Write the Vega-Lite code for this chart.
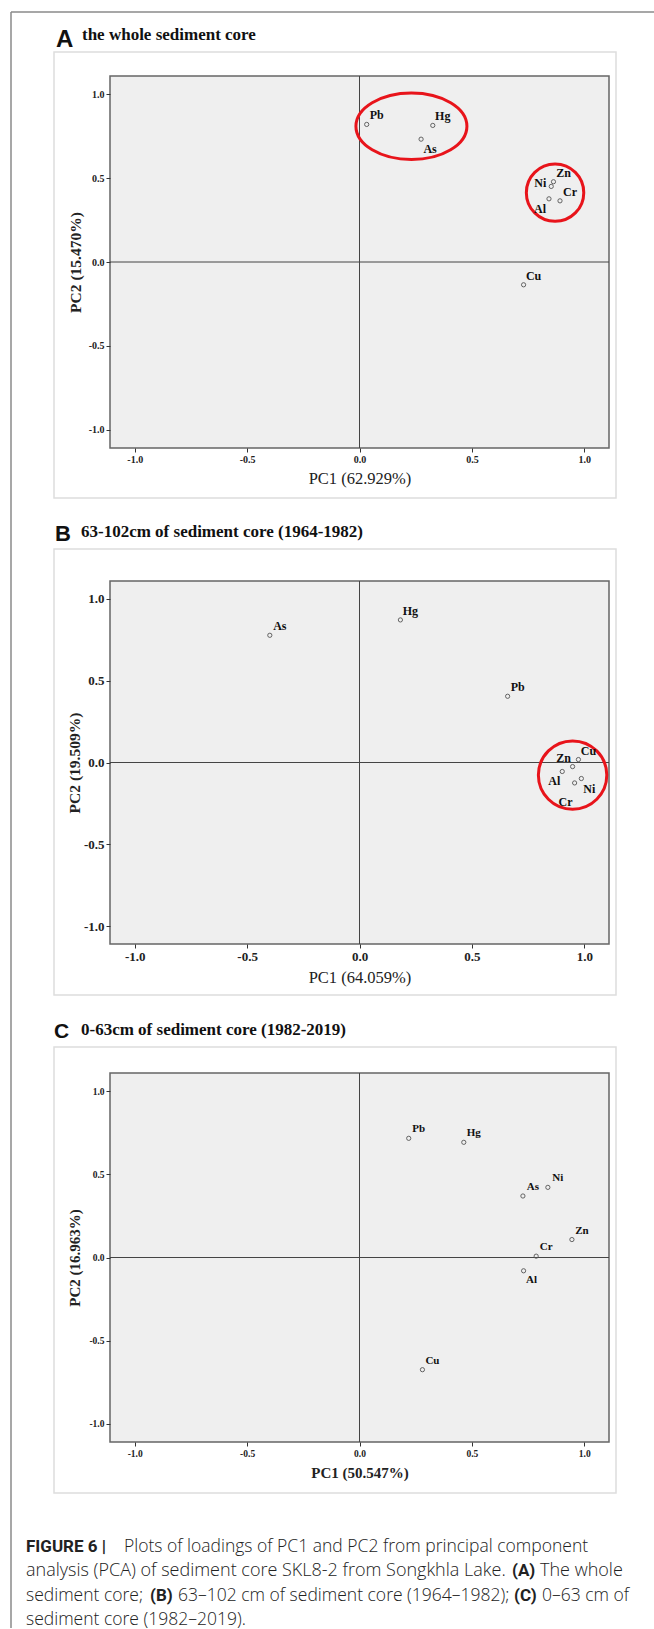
{
  "$schema": "https://vega.github.io/schema/vega-lite/v6.json",
  "background": "white",
  "padding": {"left": 9, "top": 10, "right": 0, "bottom": 0},
  "spacing": 0,
  "bounds": "flush",
  "datasets": {
    "A": [
      {"element": "Pb", "pc1": 0.032, "pc2": 0.821},
      {"element": "Hg", "pc1": 0.326, "pc2": 0.815},
      {"element": "As", "pc1": 0.274, "pc2": 0.733},
      {"element": "Zn", "pc1": 0.863, "pc2": 0.479},
      {"element": "Ni", "pc1": 0.853, "pc2": 0.451},
      {"element": "Al", "pc1": 0.843, "pc2": 0.377},
      {"element": "Cr", "pc1": 0.892, "pc2": 0.365},
      {"element": "Cu", "pc1": 0.730, "pc2": -0.136}
    ],
    "B": [
      {"element": "As", "pc1": -0.399, "pc2": 0.778},
      {"element": "Hg", "pc1": 0.182, "pc2": 0.872},
      {"element": "Pb", "pc1": 0.659, "pc2": 0.405},
      {"element": "Cu", "pc1": 0.974, "pc2": 0.018},
      {"element": "Zn", "pc1": 0.948, "pc2": -0.025},
      {"element": "Al", "pc1": 0.902, "pc2": -0.055},
      {"element": "Ni", "pc1": 0.987, "pc2": -0.098},
      {"element": "Cr", "pc1": 0.957, "pc2": -0.125}
    ],
    "C": [
      {"element": "Pb", "pc1": 0.219, "pc2": 0.717},
      {"element": "Hg", "pc1": 0.464, "pc2": 0.693},
      {"element": "As", "pc1": 0.727, "pc2": 0.370},
      {"element": "Ni", "pc1": 0.838, "pc2": 0.422},
      {"element": "Zn", "pc1": 0.945, "pc2": 0.108},
      {"element": "Cr", "pc1": 0.786, "pc2": 0.008},
      {"element": "Al", "pc1": 0.730, "pc2": -0.080},
      {"element": "Cu", "pc1": 0.280, "pc2": -0.675}
    ],
    "ellipses": [
      {"panel": "A", "group": "Pb-Hg-As", "pc1": 0.231, "pc2": 0.810},
      {"panel": "A", "group": "Zn-Ni-Cr-Al", "pc1": 0.870, "pc2": 0.414},
      {"panel": "B", "group": "Cu-Zn-Al-Ni-Cr", "pc1": 0.948, "pc2": -0.077}
    ],
    "note": [{"item": "annotation"}],
    "caption": [
      {"line": 1, "seg": "1a", "text": "FIGURE 6 |"},
      {"line": 1, "seg": "1b", "text": "Plots of loadings of PC1 and PC2 from principal component"},
      {"line": 2, "seg": "2a", "text": "analysis (PCA) of sediment core SKL8-2 from Songkhla Lake."},
      {"line": 2, "seg": "2b", "text": "(A)"},
      {"line": 2, "seg": "2c", "text": "The whole"},
      {"line": 3, "seg": "3a", "text": "sediment core;"},
      {"line": 3, "seg": "3b", "text": "(B)"},
      {"line": 3, "seg": "3c", "text": "63–102 cm of sediment core (1964–1982);"},
      {"line": 3, "seg": "3d", "text": "(C)"},
      {"line": 3, "seg": "3e", "text": "0–63 cm of"},
      {"line": 4, "seg": "4a", "text": "sediment core (1982–2019)."}
    ]
  },
  "vconcat": [
    {
      "width": 499,
      "height": 372,
      "view": {"fill": "#efefef", "stroke": "#666666", "strokeWidth": 1.5},
      "layer": [
        {
          "data": {"name": "note"},
          "mark": {"type": "rect", "filled": false, "color": "#dddddd", "strokeWidth": 1.5, "xOffset": -56, "x2Offset": 7, "yOffset": -24, "y2Offset": 50},
          "encoding": {"x": {"datum": -1.11}, "x2": {"datum": 1.11}, "y": {"datum": 1.11}, "y2": {"datum": -1.11}}
        },
        {
          "data": {"name": "note"},
          "mark": {"type": "rule", "color": "#8a8a8a", "strokeWidth": 1.5, "xOffset": -99, "x2Offset": 45, "yOffset": -64},
          "encoding": {"x": {"datum": -1.11}, "x2": {"datum": 1.11}, "y": {"datum": 1.11}}
        },
        {
          "data": {"name": "note"},
          "mark": {"type": "rule", "color": "#8a8a8a", "strokeWidth": 1.5, "xOffset": -99, "yOffset": -64, "y2Offset": 1180},
          "encoding": {"x": {"datum": -1.11}, "y": {"datum": 1.11}, "y2": {"datum": -1.11}}
        },
        {
          "data": {"name": "note"},
          "mark": {"type": "text", "text": "A", "font": "Liberation Sans", "fontWeight": "bold", "fontSize": 24, "align": "left", "baseline": "alphabetic", "dx": -54, "dy": -29, "color": "#111111"},
          "encoding": {"x": {"datum": -1.11}, "y": {"datum": 1.11}}
        },
        {
          "data": {"name": "note"},
          "mark": {"type": "text", "text": "the whole sediment core", "font": "Liberation Serif", "fontWeight": "bold", "fontSize": 17, "align": "left", "baseline": "alphabetic", "dx": -28, "dy": -36, "color": "#111111"},
          "encoding": {"x": {"datum": -1.11}, "y": {"datum": 1.11}}
        },
        {"data": {"name": "note"}, "mark": {"type": "rule", "color": "#444444", "strokeWidth": 1}, "encoding": {"x": {"datum": 0}}},
        {"data": {"name": "note"}, "mark": {"type": "rule", "color": "#444444", "strokeWidth": 1}, "encoding": {"y": {"datum": 0}}},
        {
          "data": {"name": "ellipses"},
          "transform": [{"filter": "datum.group === 'Pb-Hg-As'"}],
          "mark": {"type": "point", "shape": "M -1 0 C -1 -0.3314 -0.5523 -0.6 0 -0.6 C 0.5523 -0.6 1 -0.3314 1 0 C 1 0.3314 0.5523 0.6 0 0.6 C -0.5523 0.6 -1 0.3314 -1 0 Z", "size": 12321, "filled": false, "stroke": "#e8141b", "strokeWidth": 3, "opacity": 1},
          "encoding": {"x": {"field": "pc1", "type": "quantitative"}, "y": {"field": "pc2", "type": "quantitative"}}
        },
        {
          "data": {"name": "ellipses"},
          "transform": [{"filter": "datum.group === 'Zn-Ni-Cr-Al'"}],
          "mark": {"type": "point", "shape": "circle", "size": 3298, "filled": false, "stroke": "#e8141b", "strokeWidth": 3, "opacity": 1},
          "encoding": {"x": {"field": "pc1", "type": "quantitative"}, "y": {"field": "pc2", "type": "quantitative"}}
        },
        {
          "data": {"name": "A"},
          "mark": {"type": "point", "shape": "circle", "filled": false, "stroke": "#555555", "strokeWidth": 0.9, "size": 18, "opacity": 1},
          "encoding": {
            "x": {"field": "pc1", "type": "quantitative", "scale": {"domain": [-1.11, 1.11], "nice": false, "zero": false},
              "axis": {"title": "PC1 (62.929%)", "values": [-1, -0.5, 0, 0.5, 1], "labelExpr": "(datum.value < 0 ? '-' : '') + format(abs(datum.value), '.1f')", "labelFontSize": 10, "titleFontSize": 16.5, "titleFontWeight": "normal", "titlePadding": 6}},
            "y": {"field": "pc2", "type": "quantitative", "scale": {"domain": [-1.11, 1.11], "nice": false, "zero": false},
              "axis": {"title": "PC2 (15.470%)", "values": [-1, -0.5, 0, 0.5, 1], "labelExpr": "(datum.value < 0 ? '-' : '') + format(abs(datum.value), '.1f')", "labelFontSize": 10, "titleFontSize": 15.5, "titleFontWeight": "bold", "titlePadding": 4.5}}
          }
        },
        {
          "data": {"name": "A"},
          "transform": [{"filter": "indexof(['Pb','Hg','Zn','Cr','Cu'], datum.element) >= 0"}],
          "mark": {"type": "text", "font": "Liberation Serif", "fontWeight": "bold", "fontSize": 12, "dx": 10, "dy": -9, "color": "#111111"},
          "encoding": {"x": {"field": "pc1", "type": "quantitative"}, "y": {"field": "pc2", "type": "quantitative"}, "text": {"field": "element"}}
        },
        {
          "data": {"name": "A"},
          "transform": [{"filter": "datum.element === 'As'"}],
          "mark": {"type": "text", "font": "Liberation Serif", "fontWeight": "bold", "fontSize": 12, "dx": 9, "dy": 10, "color": "#111111"},
          "encoding": {"x": {"field": "pc1", "type": "quantitative"}, "y": {"field": "pc2", "type": "quantitative"}, "text": {"field": "element"}}
        },
        {
          "data": {"name": "A"},
          "transform": [{"filter": "datum.element === 'Ni'"}],
          "mark": {"type": "text", "font": "Liberation Serif", "fontWeight": "bold", "fontSize": 12, "dx": -11, "dy": -3, "color": "#111111"},
          "encoding": {"x": {"field": "pc1", "type": "quantitative"}, "y": {"field": "pc2", "type": "quantitative"}, "text": {"field": "element"}}
        },
        {
          "data": {"name": "A"},
          "transform": [{"filter": "datum.element === 'Al'"}],
          "mark": {"type": "text", "font": "Liberation Serif", "fontWeight": "bold", "fontSize": 12, "dx": -9, "dy": 10, "color": "#111111"},
          "encoding": {"x": {"field": "pc1", "type": "quantitative"}, "y": {"field": "pc2", "type": "quantitative"}, "text": {"field": "element"}}
        }
      ]
    },
    {"height": 133, "width": 499, "data": {"values": []}, "mark": "point", "view": {"stroke": null, "fill": null}},
    {
      "width": 499,
      "height": 363,
      "view": {"fill": "#efefef", "stroke": "#666666", "strokeWidth": 1.5},
      "layer": [
        {
          "data": {"name": "note"},
          "mark": {"type": "rect", "filled": false, "color": "#dddddd", "strokeWidth": 1.5, "xOffset": -56, "x2Offset": 7, "yOffset": -32, "y2Offset": 51},
          "encoding": {"x": {"datum": -1.11}, "x2": {"datum": 1.11}, "y": {"datum": 1.11}, "y2": {"datum": -1.11}}
        },
        {
          "data": {"name": "note"},
          "mark": {"type": "text", "text": "B", "font": "Liberation Sans", "fontWeight": "bold", "fontSize": 22, "align": "left", "baseline": "alphabetic", "dx": -55, "dy": -40, "color": "#111111"},
          "encoding": {"x": {"datum": -1.11}, "y": {"datum": 1.11}}
        },
        {
          "data": {"name": "note"},
          "mark": {"type": "text", "text": "63-102cm of sediment core (1964-1982)", "font": "Liberation Serif", "fontWeight": "bold", "fontSize": 17, "align": "left", "baseline": "alphabetic", "dx": -29, "dy": -44, "color": "#111111"},
          "encoding": {"x": {"datum": -1.11}, "y": {"datum": 1.11}}
        },
        {"data": {"name": "note"}, "mark": {"type": "rule", "color": "#444444", "strokeWidth": 1}, "encoding": {"x": {"datum": 0}}},
        {"data": {"name": "note"}, "mark": {"type": "rule", "color": "#444444", "strokeWidth": 1}, "encoding": {"y": {"datum": 0}}},
        {
          "data": {"name": "ellipses"},
          "transform": [{"filter": "datum.panel === 'B'"}],
          "mark": {"type": "point", "shape": "circle", "size": 4681, "filled": false, "stroke": "#e8141b", "strokeWidth": 3, "opacity": 1},
          "encoding": {"x": {"field": "pc1", "type": "quantitative"}, "y": {"field": "pc2", "type": "quantitative"}}
        },
        {
          "data": {"name": "B"},
          "mark": {"type": "point", "shape": "circle", "filled": false, "stroke": "#555555", "strokeWidth": 0.9, "size": 18, "opacity": 1},
          "encoding": {
            "x": {"field": "pc1", "type": "quantitative", "scale": {"domain": [-1.11, 1.11], "nice": false, "zero": false},
              "axis": {"title": "PC1 (64.059%)", "values": [-1, -0.5, 0, 0.5, 1], "labelExpr": "(datum.value < 0 ? '-' : '') + format(abs(datum.value), '.1f')", "labelFontSize": 13, "titleFontSize": 16.5, "titleFontWeight": "normal", "titlePadding": 6}},
            "y": {"field": "pc2", "type": "quantitative", "scale": {"domain": [-1.11, 1.11], "nice": false, "zero": false},
              "axis": {"title": "PC2 (19.509%)", "values": [-1, -0.5, 0, 0.5, 1], "labelExpr": "(datum.value < 0 ? '-' : '') + format(abs(datum.value), '.1f')", "labelFontSize": 13, "titleFontSize": 15.5, "titleFontWeight": "bold", "titlePadding": 1}}
          }
        },
        {
          "data": {"name": "B"},
          "transform": [{"filter": "indexof(['As','Hg','Pb','Cu'], datum.element) >= 0"}],
          "mark": {"type": "text", "font": "Liberation Serif", "fontWeight": "bold", "fontSize": 12, "dx": 10, "dy": -9, "color": "#111111"},
          "encoding": {"x": {"field": "pc1", "type": "quantitative"}, "y": {"field": "pc2", "type": "quantitative"}, "text": {"field": "element"}}
        },
        {
          "data": {"name": "B"},
          "transform": [{"filter": "datum.element === 'Zn'"}],
          "mark": {"type": "text", "font": "Liberation Serif", "fontWeight": "bold", "fontSize": 12, "dx": -9, "dy": -9, "color": "#111111"},
          "encoding": {"x": {"field": "pc1", "type": "quantitative"}, "y": {"field": "pc2", "type": "quantitative"}, "text": {"field": "element"}}
        },
        {
          "data": {"name": "B"},
          "transform": [{"filter": "datum.element === 'Al'"}],
          "mark": {"type": "text", "font": "Liberation Serif", "fontWeight": "bold", "fontSize": 12, "dx": -8, "dy": 10, "color": "#111111"},
          "encoding": {"x": {"field": "pc1", "type": "quantitative"}, "y": {"field": "pc2", "type": "quantitative"}, "text": {"field": "element"}}
        },
        {
          "data": {"name": "B"},
          "transform": [{"filter": "datum.element === 'Ni'"}],
          "mark": {"type": "text", "font": "Liberation Serif", "fontWeight": "bold", "fontSize": 12, "dx": 8, "dy": 10, "color": "#111111"},
          "encoding": {"x": {"field": "pc1", "type": "quantitative"}, "y": {"field": "pc2", "type": "quantitative"}, "text": {"field": "element"}}
        },
        {
          "data": {"name": "B"},
          "transform": [{"filter": "datum.element === 'Cr'"}],
          "mark": {"type": "text", "font": "Liberation Serif", "fontWeight": "bold", "fontSize": 12, "dx": -9, "dy": 19, "color": "#111111"},
          "encoding": {"x": {"field": "pc1", "type": "quantitative"}, "y": {"field": "pc2", "type": "quantitative"}, "text": {"field": "element"}}
        }
      ]
    },
    {"height": 129, "width": 499, "data": {"values": []}, "mark": "point", "view": {"stroke": null, "fill": null}},
    {
      "width": 499,
      "height": 369,
      "view": {"fill": "#efefef", "stroke": "#666666", "strokeWidth": 1.5},
      "layer": [
        {
          "data": {"name": "note"},
          "mark": {"type": "rect", "filled": false, "color": "#dddddd", "strokeWidth": 1.5, "xOffset": -56, "x2Offset": 7, "yOffset": -26, "y2Offset": 51},
          "encoding": {"x": {"datum": -1.11}, "x2": {"datum": 1.11}, "y": {"datum": 1.11}, "y2": {"datum": -1.11}}
        },
        {
          "data": {"name": "note"},
          "mark": {"type": "text", "text": "C", "font": "Liberation Sans", "fontWeight": "bold", "fontSize": 21, "align": "left", "baseline": "alphabetic", "dx": -56, "dy": -35.5, "color": "#111111"},
          "encoding": {"x": {"datum": -1.11}, "y": {"datum": 1.11}}
        },
        {
          "data": {"name": "note"},
          "mark": {"type": "text", "text": "0-63cm of sediment core (1982-2019)", "font": "Liberation Serif", "fontWeight": "bold", "fontSize": 17, "align": "left", "baseline": "alphabetic", "dx": -29, "dy": -38, "color": "#111111"},
          "encoding": {"x": {"datum": -1.11}, "y": {"datum": 1.11}}
        },
        {"data": {"name": "note"}, "mark": {"type": "rule", "color": "#444444", "strokeWidth": 1}, "encoding": {"x": {"datum": 0}}},
        {"data": {"name": "note"}, "mark": {"type": "rule", "color": "#444444", "strokeWidth": 1}, "encoding": {"y": {"datum": 0}}},
        {
          "data": {"name": "C"},
          "mark": {"type": "point", "shape": "circle", "filled": false, "stroke": "#555555", "strokeWidth": 0.9, "size": 18, "opacity": 1},
          "encoding": {
            "x": {"field": "pc1", "type": "quantitative", "scale": {"domain": [-1.11, 1.11], "nice": false, "zero": false},
              "axis": {"title": "PC1 (50.547%)", "values": [-1, -0.5, 0, 0.5, 1], "labelExpr": "(datum.value < 0 ? '-' : '') + format(abs(datum.value), '.1f')", "labelFontSize": 9.5, "titleFontSize": 15, "titleFontWeight": "bold", "titlePadding": 8}},
            "y": {"field": "pc2", "type": "quantitative", "scale": {"domain": [-1.11, 1.11], "nice": false, "zero": false},
              "axis": {"title": "PC2 (16.963%)", "values": [-1, -0.5, 0, 0.5, 1], "labelExpr": "(datum.value < 0 ? '-' : '') + format(abs(datum.value), '.1f')", "labelFontSize": 9.5, "titleFontSize": 15, "titleFontWeight": "bold", "titlePadding": 6}}
          }
        },
        {
          "data": {"name": "C"},
          "transform": [{"filter": "datum.element !== 'Al'"}],
          "mark": {"type": "text", "font": "Liberation Serif", "fontWeight": "bold", "fontSize": 11, "dx": 10, "dy": -9, "color": "#111111"},
          "encoding": {"x": {"field": "pc1", "type": "quantitative"}, "y": {"field": "pc2", "type": "quantitative"}, "text": {"field": "element"}}
        },
        {
          "data": {"name": "C"},
          "transform": [{"filter": "datum.element === 'Al'"}],
          "mark": {"type": "text", "font": "Liberation Serif", "fontWeight": "bold", "fontSize": 11, "dx": 8, "dy": 9, "color": "#111111"},
          "encoding": {"x": {"field": "pc1", "type": "quantitative"}, "y": {"field": "pc2", "type": "quantitative"}, "text": {"field": "element"}}
        }
      ]
    },
    {"height": 105, "width": 499, "data": {"values": []}, "mark": "point", "view": {"stroke": null, "fill": null}},
    {
      "width": 499,
      "height": 73,
      "data": {"name": "caption"},
      "view": {"stroke": null, "fill": null},
      "encoding": {
        "x": {"datum": 0, "type": "quantitative", "scale": {"domain": [0, 1]}, "axis": null},
        "y": {"field": "line", "type": "ordinal", "scale": {"type": "point", "padding": 0}, "axis": null},
        "text": {"field": "text"}
      },
      "layer": [
        {"transform": [{"filter": "indexof(['3a','4a'], datum.seg) >= 0"}], "mark": {"type": "text", "align": "left", "baseline": "middle", "dx": -84, "font": "Open Sans", "fontWeight": 300, "fontSize": 17.5, "color": "#222222"}},
        {"transform": [{"filter": "datum.seg === '2a'"}], "mark": {"type": "text", "align": "left", "baseline": "middle", "dx": -84, "font": "Open Sans", "fontWeight": 300, "fontSize": 18, "color": "#222222"}},
        {"transform": [{"filter": "datum.seg === '1a'"}], "mark": {"type": "text", "align": "left", "baseline": "middle", "dx": -84, "font": "Roboto", "fontWeight": "bold", "fontSize": 17, "color": "#222222"}},
        {"transform": [{"filter": "datum.seg === '1b'"}], "mark": {"type": "text", "align": "left", "baseline": "middle", "dx": 14, "font": "Open Sans", "fontWeight": 300, "fontSize": 17.5, "color": "#222222"}},
        {"transform": [{"filter": "datum.seg === '2b'"}], "mark": {"type": "text", "align": "left", "baseline": "middle", "dx": 402, "font": "Roboto", "fontWeight": "bold", "fontSize": 17, "color": "#222222"}},
        {"transform": [{"filter": "datum.seg === '2c'"}], "mark": {"type": "text", "align": "left", "baseline": "middle", "dx": 430, "font": "Open Sans", "fontWeight": 300, "fontSize": 18, "color": "#222222"}},
        {"transform": [{"filter": "datum.seg === '3b'"}], "mark": {"type": "text", "align": "left", "baseline": "middle", "dx": 40, "font": "Roboto", "fontWeight": "bold", "fontSize": 17, "color": "#222222"}},
        {"transform": [{"filter": "datum.seg === '3c'"}], "mark": {"type": "text", "align": "left", "baseline": "middle", "dx": 68, "font": "Open Sans", "fontWeight": 300, "fontSize": 17.5, "color": "#222222"}},
        {"transform": [{"filter": "datum.seg === '3d'"}], "mark": {"type": "text", "align": "left", "baseline": "middle", "dx": 404, "font": "Roboto", "fontWeight": "bold", "fontSize": 17, "color": "#222222"}},
        {"transform": [{"filter": "datum.seg === '3e'"}], "mark": {"type": "text", "align": "left", "baseline": "middle", "dx": 432, "font": "Open Sans", "fontWeight": 300, "fontSize": 17.5, "color": "#222222"}}
      ]
    }
  ],
  "config": {
    "view": {"stroke": null},
    "font": "Liberation Serif",
    "axis": {
      "grid": false,
      "domain": false,
      "ticks": true,
      "tickSize": 4,
      "tickColor": "#333333",
      "tickWidth": 1,
      "labelFont": "Liberation Serif",
      "labelFontWeight": "bold",
      "labelColor": "#222222",
      "labelPadding": 2,
      "labelOverlap": false,
      "labelFlush": false,
      "titleFont": "Liberation Serif",
      "titleColor": "#222222"
    }
  }
}
